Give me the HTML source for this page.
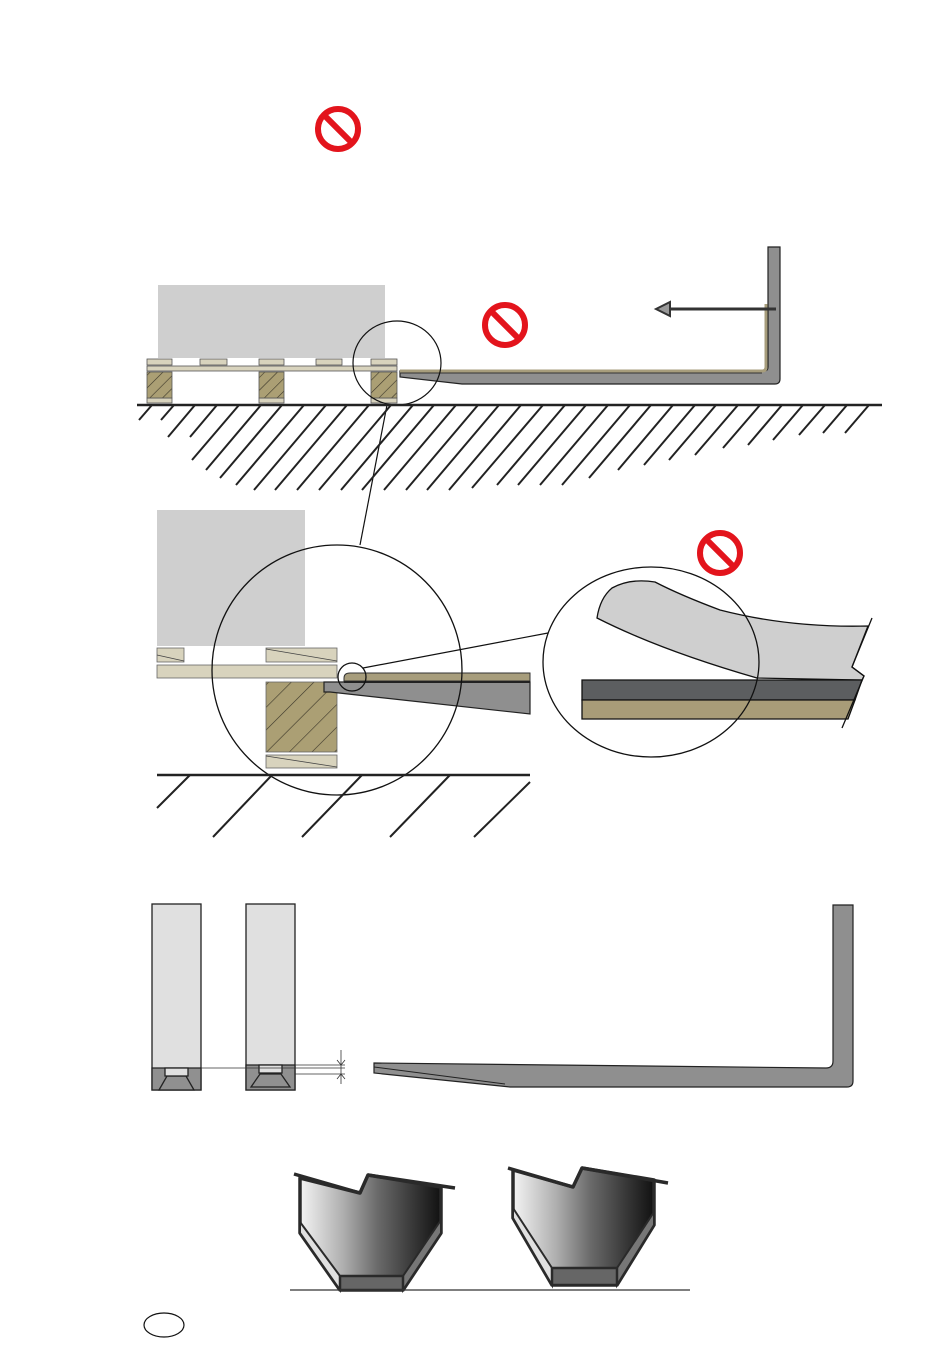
<!DOCTYPE html>
<html><head><meta charset="utf-8"><style>html,body{margin:0;padding:0;background:#fff}svg{display:block}</style></head>
<body>
<svg width="950" height="1353" viewBox="0 0 950 1353" xmlns="http://www.w3.org/2000/svg">
<defs>
<pattern id="h" patternUnits="userSpaceOnUse" width="9" height="9" patternTransform="rotate(45)">
<rect width="9" height="9" fill="#ab9f74"/><line x1="0" y1="0" x2="0" y2="9" stroke="#3a3528" stroke-width="1.2"/>
</pattern>
<pattern id="h2" patternUnits="userSpaceOnUse" width="16" height="16" patternTransform="rotate(45)">
<rect width="16" height="16" fill="#ab9f74"/><line x1="0" y1="0" x2="0" y2="16" stroke="#3a3528" stroke-width="1.2"/>
</pattern>
<linearGradient id="g" x1="0" x2="1" y1="0" y2="0">
<stop offset="0" stop-color="#f4f4f4"/><stop offset="0.3" stop-color="#b0b0b0"/><stop offset="0.55" stop-color="#6a6a6a"/><stop offset="0.8" stop-color="#383838"/><stop offset="1" stop-color="#111"/>
</linearGradient>
</defs>

<!-- top sign -->
<g fill="none" stroke="#e3141c" stroke-width="6"><circle cx="338" cy="129" r="20"/><line x1="324" y1="115" x2="352" y2="143"/></g>
<g fill="none" stroke="#e3141c" stroke-width="6"><circle cx="505" cy="325" r="20"/><line x1="491" y1="311" x2="519" y2="339"/></g>
<g fill="none" stroke="#e3141c" stroke-width="6"><circle cx="720" cy="553" r="20"/><line x1="706" y1="539" x2="734" y2="567"/></g>

<!-- top scene -->
<rect x="158" y="285" width="227" height="73" fill="#cfcfcf"/>
<g fill="#d8d3bd" stroke="#555" stroke-width="0.8">
<rect x="147" y="359" width="25" height="6"/><rect x="200" y="359" width="27" height="6"/><rect x="259" y="359" width="25" height="6"/><rect x="316" y="359" width="26" height="6"/><rect x="371" y="359" width="26" height="6"/>
<rect x="147" y="366" width="250" height="5"/>
<rect x="147" y="398" width="25" height="5"/><rect x="259" y="398" width="25" height="5"/><rect x="371" y="398" width="26" height="5"/>
</g>
<g fill="url(#h)" stroke="#555" stroke-width="0.8">
<rect x="147" y="372" width="25" height="26"/><rect x="259" y="372" width="25" height="26"/><rect x="371" y="372" width="26" height="26"/>
</g>
<!-- fork top -->
<path d="M400 371 L764 371 Q768 371 768 367 L768 247 L780 247 L780 379 Q780 384 775 384 L462 384 L400 377 Z" fill="#8f8f8f" stroke="#222" stroke-width="1.2"/>
<path d="M400 371 L762 371 Q766 371 766 367 L766 304" fill="none" stroke="#a79d7c" stroke-width="3"/>
<line x1="400" y1="373" x2="762" y2="373" stroke="#333" stroke-width="1"/>
<line x1="670" y1="309" x2="776" y2="309" stroke="#333" stroke-width="3"/>
<path d="M656 309 L670 302 L670 316 Z" fill="#999" stroke="#333" stroke-width="2"/>
<ellipse cx="397" cy="363" rx="44" ry="42" fill="none" stroke="#111" stroke-width="1.2"/>
<line x1="387" y1="405" x2="360" y2="545" stroke="#111" stroke-width="1.2"/>
<line x1="137" y1="405" x2="882" y2="405" stroke="#222" stroke-width="2.5"/>
<g stroke="#222" stroke-width="2">
<line x1="152" y1="405" x2="139" y2="420"/><line x1="174" y1="405" x2="161" y2="420"/><line x1="195" y1="405" x2="168" y2="437"/><line x1="217" y1="405" x2="190" y2="437"/>
<line x1="239" y1="405" x2="192" y2="460"/><line x1="261" y1="405" x2="206" y2="470"/><line x1="282" y1="405" x2="220" y2="478"/><line x1="304" y1="405" x2="236" y2="485"/>
<line x1="326" y1="405" x2="254" y2="490"/><line x1="347" y1="405" x2="275" y2="490"/><line x1="369" y1="405" x2="297" y2="490"/><line x1="391" y1="405" x2="319" y2="490"/>
<line x1="413" y1="405" x2="341" y2="490"/><line x1="434" y1="405" x2="362" y2="490"/><line x1="456" y1="405" x2="384" y2="490"/><line x1="478" y1="405" x2="406" y2="490"/>
<line x1="499" y1="405" x2="427" y2="490"/><line x1="521" y1="405" x2="449" y2="490"/><line x1="543" y1="405" x2="472" y2="488"/><line x1="565" y1="405" x2="497" y2="485"/>
<line x1="586" y1="405" x2="518" y2="485"/><line x1="608" y1="405" x2="540" y2="485"/><line x1="630" y1="405" x2="562" y2="485"/><line x1="651" y1="405" x2="589" y2="478"/>
<line x1="673" y1="405" x2="618" y2="470"/><line x1="695" y1="405" x2="644" y2="465"/><line x1="716" y1="405" x2="669" y2="460"/><line x1="738" y1="405" x2="695" y2="455"/>
<line x1="760" y1="405" x2="723" y2="448"/><line x1="782" y1="405" x2="748" y2="445"/><line x1="803" y1="405" x2="773" y2="440"/><line x1="825" y1="405" x2="799" y2="435"/>
<line x1="847" y1="405" x2="823" y2="433"/><line x1="869" y1="405" x2="845" y2="433"/>
</g>

<!-- middle scene -->
<rect x="157" y="510" width="148" height="136" fill="#cfcfcf"/>
<g fill="#d8d3bd" stroke="#666" stroke-width="0.8">
<rect x="157" y="648" width="27" height="14"/><rect x="266" y="648" width="71" height="14"/>
<rect x="157" y="665" width="180" height="13"/>
<rect x="266" y="755" width="71" height="13"/>
</g>
<g stroke="#444" stroke-width="0.8"><line x1="157" y1="655" x2="184" y2="661"/><line x1="266" y1="649" x2="337" y2="661"/><line x1="266" y1="756" x2="337" y2="767"/></g>
<rect x="266" y="682" width="71" height="70" fill="url(#h2)" stroke="#666" stroke-width="0.8"/>
<path d="M324 682 L530 682 L530 714 L330 692 L324 692 Z" fill="#8f8f8f" stroke="#222" stroke-width="1.2"/>
<path d="M344 681 L344 678 Q344 673 350 673 L530 673 L530 681 Z" fill="#a79d7c" stroke="#333" stroke-width="1"/>
<line x1="344" y1="682" x2="530" y2="682" stroke="#222" stroke-width="2"/>
<circle cx="337" cy="670" r="125" fill="none" stroke="#111" stroke-width="1.3"/>
<circle cx="352" cy="677" r="14" fill="none" stroke="#111" stroke-width="1.3"/>
<line x1="363" y1="668" x2="548" y2="633" stroke="#111" stroke-width="1.2"/>
<line x1="157" y1="775" x2="530" y2="775" stroke="#222" stroke-width="2.5"/>
<g stroke="#222" stroke-width="2">
<line x1="190" y1="775" x2="157" y2="808"/><line x1="272" y1="775" x2="213" y2="837"/><line x1="362" y1="775" x2="302" y2="837"/><line x1="450" y1="775" x2="390" y2="837"/><line x1="530" y1="782" x2="474" y2="837"/>
</g>

<!-- right detail -->
<path d="M597 618 Q600 598 612 588 Q630 578 655 582 Q680 595 720 610 Q790 628 868 626 L852 667 L864 676 L862 680 L757 678 Q660 650 597 618 Z" fill="#cfcfcf" stroke="#111" stroke-width="1.3"/>
<path d="M582 680 L862 680 L855 700 L582 700 Z" fill="#5c5e60" stroke="#111" stroke-width="1.3"/>
<path d="M582 700 L855 700 L848 719 L582 719 Z" fill="#a89c78" stroke="#111" stroke-width="1.3"/>
<polyline points="872,618 852,667 864,676 842,728" fill="none" stroke="#111" stroke-width="1.3"/>
<ellipse cx="651" cy="662" rx="108" ry="95" fill="none" stroke="#111" stroke-width="1.3"/>

<!-- bottom fork sections -->
<g stroke="#222" stroke-width="1.3">
<rect x="152" y="904" width="49" height="186" fill="#e0e0e0"/>
<path d="M152 1068 L201 1068 L201 1090 L152 1090 Z" fill="#909090"/>
<path d="M159 1090 L167 1076 L186 1076 L194 1090 Z" fill="#909090"/>
<rect x="165" y="1068" width="23" height="8" fill="#e0e0e0"/>
<rect x="246" y="904" width="49" height="186" fill="#e0e0e0"/>
<path d="M246 1065 L295 1065 L295 1090 L246 1090 Z" fill="#909090"/>
<path d="M251 1087 L260 1074 L281 1074 L290 1087 Z" fill="#909090"/>
<rect x="259" y="1065" width="23" height="8" fill="#e0e0e0"/>
</g>
<g stroke="#333" stroke-width="0.8">
<line x1="201" y1="1068" x2="345" y2="1068"/><line x1="295" y1="1065" x2="345" y2="1065"/><line x1="295" y1="1074" x2="345" y2="1074"/>
<line x1="341" y1="1050" x2="341" y2="1084"/>
</g>
<path d="M337 1060 L341 1065 L345 1060 M337 1079 L341 1074 L345 1079" fill="none" stroke="#333" stroke-width="0.8"/>
<path d="M374 1063 L826 1068 Q833 1068 833 1061 L833 905 L853 905 L853 1081 Q853 1087 847 1087 L510 1087 L374 1073 Z" fill="#8f8f8f" stroke="#222" stroke-width="1.2"/>
<line x1="374" y1="1067" x2="505" y2="1084" stroke="#222" stroke-width="1"/>

<!-- bottom trapezoids -->
<path d="M300 1178 L360 1193 L368 1175 L441 1187 L441 1233 L403 1290 L340 1290 L300 1233 Z" fill="url(#g)" stroke="#2a2a2a" stroke-width="3.5" stroke-linejoin="round"/>
<path d="M300 1222 L340 1276 L340 1290 L300 1233 Z" fill="#e0e0e0" stroke="#2a2a2a" stroke-width="2"/>
<path d="M441 1220 L403 1276 L403 1290 L441 1233 Z" fill="#777" stroke="#2a2a2a" stroke-width="2"/>
<rect x="340" y="1276" width="63" height="14" fill="#666" stroke="#2a2a2a" stroke-width="2.5"/>
<line x1="294" y1="1174" x2="360" y2="1193" stroke="#2a2a2a" stroke-width="3.5"/><line x1="368" y1="1175" x2="455" y2="1188" stroke="#2a2a2a" stroke-width="3.5"/>

<path d="M513 1170 L573 1187 L582 1168 L654 1180 L654 1225 L617 1285 L552 1285 L513 1218 Z" fill="url(#g)" stroke="#2a2a2a" stroke-width="3.5" stroke-linejoin="round"/>
<path d="M513 1208 L552 1268 L552 1285 L513 1218 Z" fill="#e0e0e0" stroke="#2a2a2a" stroke-width="2"/>
<path d="M654 1212 L617 1268 L617 1285 L654 1225 Z" fill="#777" stroke="#2a2a2a" stroke-width="2"/>
<rect x="552" y="1268" width="65" height="17" fill="#666" stroke="#2a2a2a" stroke-width="2.5"/>
<line x1="508" y1="1168" x2="573" y2="1187" stroke="#2a2a2a" stroke-width="3.5"/><line x1="582" y1="1168" x2="668" y2="1183" stroke="#2a2a2a" stroke-width="3.5"/>

<line x1="290" y1="1290" x2="690" y2="1290" stroke="#333" stroke-width="1.3"/>
<ellipse cx="164" cy="1325" rx="20" ry="12" fill="none" stroke="#111" stroke-width="1.2"/>
</svg>
</body></html>
